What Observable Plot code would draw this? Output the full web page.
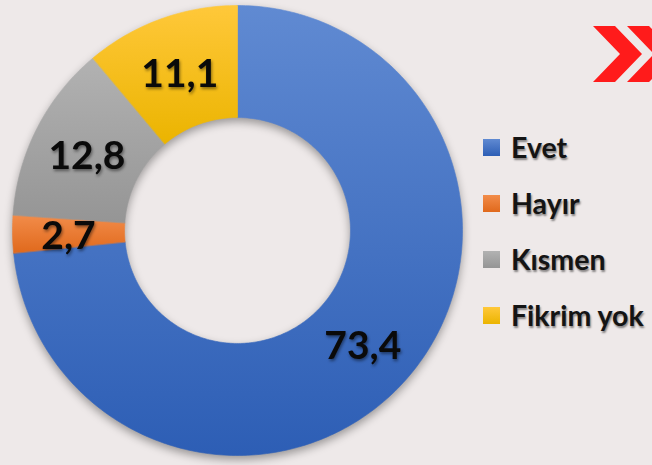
<!DOCTYPE html>
<html>
<head>
<meta charset="utf-8">
<script src="https://cdn.jsdelivr.net/npm/d3@7"></script>
<script src="https://cdn.jsdelivr.net/npm/@observablehq/plot@0.6"></script>
<style>
  html, body { margin: 0; padding: 0; background: #eee9e9; }
  #wrap { position: relative; width: 652px; height: 465px; overflow: hidden; background: #eee9e9; font-family: Lato, "Open Sans", sans-serif; }
  #chart { position: absolute; left: 0; top: 0; }
  #legend { position: absolute; left: 483px; top: 119px; }
  .row { height: 56px; display: flex; align-items: center; }
  .sw { width: 17px; height: 17px; margin-right: 11px; }
  .lab { font-weight: 700; font-size: 28.5px; color: #141414; text-shadow: 1px 2px 2px rgba(0,0,0,0.45); white-space: nowrap; }
  #chev { position: absolute; left: 0; top: 0; }
</style>
</head>
<body>
<div id="wrap">
  <div id="chart"></div>
  <div id="legend"></div>
  <svg id="chev" width="652" height="465"><g fill="#ff1b1b">
    <polygon points="593,26 615,26 642,54 615,82 593,82 620,54"></polygon>
    <polygon points="627,26 649,26 676,54 649,82 627,82 654,54"></polygon>
  </g></svg>
</div>
<script>
const categories = ["Evet", "Hayır", "Kısmen", "Fikrim yok"];
const values = [73.4, 2.7, 12.8, 11.1];
const labels = ["73,4", "2,7", "12,8", "11,1"];
const colorTop = ["#608ad2", "#f28c4a", "#b2b2b2", "#ffc83a"];
const colorBottom = ["#2d5eb5", "#e0691c", "#959595", "#ebb400"];

const W = 652, H = 465;
const cx = 237, cy = 230, rOutPx = 225; // layout
const rIn = 0.502; // inner radius relative to outer

const pie = d3.pie().sort(null).value(d => d.value);
const arcs = pie(categories.map((c, i) => ({cat: c, value: values[i], label: labels[i]})));

const ring = [];
const centers = [];
for (const a of arcs) {
  const {startAngle: a0, endAngle: a1} = a;
  const n = Math.max(2, Math.ceil((a1 - a0) / (2 * Math.PI) * 360));
  for (let i = 0; i <= n; i++) {
    const t = a0 + (a1 - a0) * i / n;
    ring.push({cat: a.data.cat, x: Math.sin(t), y: Math.cos(t)});
  }
  for (let i = n; i >= 0; i--) {
    const t = a0 + (a1 - a0) * i / n;
    ring.push({cat: a.data.cat, x: rIn * Math.sin(t), y: rIn * Math.cos(t)});
  }
  const m = (a0 + a1) / 2, rm = (1 + rIn) / 2;
  centers.push({cat: a.data.cat, label: a.data.label, x: rm * Math.sin(m), y: rm * Math.cos(m)});
}

const plot = Plot.plot({
  width: W,
  height: H,
  margin: 0,
  style: {background: "transparent", overflow: "visible"},
  x: {domain: [-cx / rOutPx, (W - cx) / rOutPx], range: [0, W], axis: null},
  y: {domain: [-(H - cy) / rOutPx, cy / rOutPx], range: [H, 0], axis: null},
  color: {domain: categories, range: categories.map((d, i) => `url(#grad${i})`)},
  marks: [
    Plot.line(ring, {x: "x", y: "y", z: "cat", fill: "cat", stroke: "cat", strokeWidth: 0.6, curve: "linear-closed"}),
    Plot.text(centers, {x: "x", y: "y", text: "label", dy: 3, fill: "#0a0a0a", fontSize: 39, fontWeight: 700, fontFamily: "Lato, 'Open Sans', sans-serif"})
  ]
});

const svg = d3.select(plot);
const defs = svg.insert("defs", ":first-child");
categories.forEach((c, i) => {
  const g = defs.append("linearGradient").attr("id", `grad${i}`).attr("x1", 0).attr("y1", 0).attr("x2", 0).attr("y2", 1);
  g.append("stop").attr("offset", "0%").attr("stop-color", colorTop[i]);
  g.append("stop").attr("offset", "100%").attr("stop-color", colorBottom[i]);
});
svg.selectAll("g[aria-label=line]").style("filter", "drop-shadow(0px 4px 4px rgba(0,0,0,0.35))");
svg.selectAll("g[aria-label=text]").style("filter", "drop-shadow(1px 2px 1.5px rgba(0,0,0,0.45))");

document.getElementById("chart").appendChild(plot);

const legend = d3.select("#legend");
categories.forEach((c, i) => {
  const row = legend.append("div").attr("class", "row");
  row.append("div").attr("class", "sw").style("background", `linear-gradient(${colorTop[i]}, ${colorBottom[i]})`);
  row.append("div").attr("class", "lab").text(c);
});
</script>
</body>
</html>
